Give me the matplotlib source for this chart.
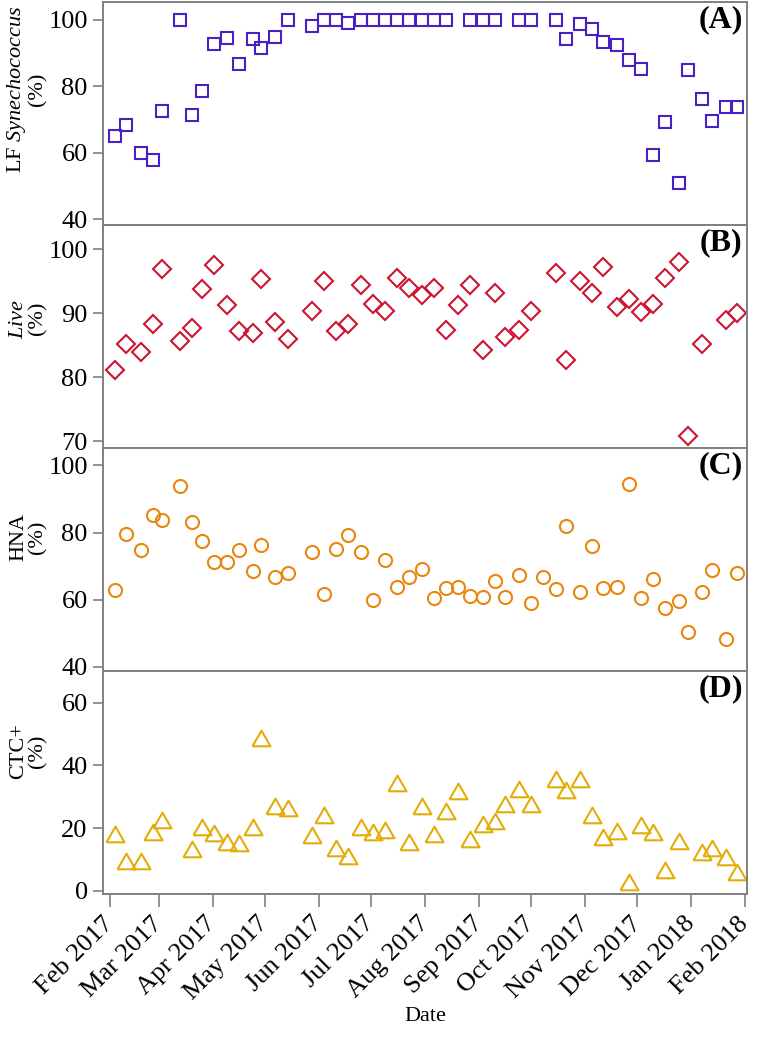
import numpy as np
import pandas as pd
import matplotlib
matplotlib.use("Agg")
import matplotlib.pyplot as plt
import matplotlib.dates as mdates

plt.rcParams['font.family'] = ['Liberation Serif', 'DejaVu Serif']
plt.rcParams['mathtext.fontset'] = 'custom'
plt.rcParams['mathtext.rm'] = 'Liberation Serif'
plt.rcParams['mathtext.it'] = 'Liberation Serif:italic'

nan = np.nan

# sampling dates (weekly)
DATES = pd.to_datetime([
    '2017-02-04', '2017-02-10', '2017-02-19', '2017-02-26', '2017-03-03',
    '2017-03-13', '2017-03-20', '2017-03-26', '2017-04-02', '2017-04-09',
    '2017-04-16', '2017-04-24', '2017-04-29', '2017-05-07', '2017-05-14',
    '2017-05-28', '2017-06-04', '2017-06-11', '2017-06-18', '2017-06-25',
    '2017-07-02', '2017-07-09', '2017-07-16', '2017-07-23', '2017-07-30',
    '2017-08-06', '2017-08-13', '2017-08-20', '2017-08-27', '2017-09-03',
    '2017-09-10', '2017-09-16', '2017-09-24', '2017-10-01', '2017-10-08',
    '2017-10-15', '2017-10-21', '2017-10-29', '2017-11-05', '2017-11-11',
    '2017-11-19', '2017-11-26', '2017-12-03', '2017-12-10', '2017-12-17',
    '2017-12-25', '2017-12-30', '2018-01-07', '2018-01-13', '2018-01-21',
    '2018-01-27'])

lf_syn = [65, 68.2, 60, 57.8, 72.4, 100, 71.2, 78.4, 92.6, 94.6,
          86.8, 94.1, 91.5, 94.8, 100, 98, 100, 100, 99, 100,
          100, 100, 100, 100, 100, 100, 100, nan, 100, 100,
          100, nan, 100, 100, nan, 100, 94.3, 98.6, 97.3, 93.4,
          92.4, 87.8, 85.3, 59.3, 69.1, 50.7, 85, 76, 69.6, 73.7,
          73.7]

live = [81.2, 85.2, 84.0, 88.4, 96.9, 85.6, 87.7, 93.8, 97.6, 91.3,
        87.2, 87.0, 95.4, 88.7, 86.0, 90.3, 95.0, 87.2, 88.4, 94.4,
        91.4, 90.4, 95.5, 94.0, 92.9, 94.0, 87.4, 91.3, 94.4, 84.2,
        93.1, 86.3, 87.4, 90.4, nan, 96.3, 82.7, 95.1, 93.2, 97.3,
        91.0, 92.2, 90.2, 91.5, 95.5, 98.0, 70.8, 85.2, nan, 88.9,
        90.0]

hna = [62.8, 79.6, 74.8, 85.1, 83.7, 93.8, 83.1, 77.6, 71.3, 71.3,
       74.8, 68.5, 76.2, 66.9, 67.9, 74.3, 61.6, 75.0, 79.4, 74.2,
       59.8, 71.8, 63.9, 66.7, 69.3, 60.6, 63.6, 63.9, 61.1, 60.9,
       65.5, 60.8, 67.5, 58.9, 66.9, 63.1, 81.9, 62.3, 75.9, 63.6,
       63.8, 94.6, 60.6, 66.1, 57.4, 59.6, 50.5, 62.3, 68.8, 48.2,
       68.0]

ctc = [18.2, 9.6, 9.6, 18.6, 22.5, nan, 13.4, 20.4, 18.4, 15.4,
       15.2, 20.2, 48.8, 26.9, 26.4, 17.9, 24.1, 13.6, 11.2, 20.4,
       18.6, 19.3, 34.4, 15.6, 26.9, 18.2, 25.3, 31.7, 16.5, 21.4,
       22.2, 27.5, 32.3, 27.5, nan, 35.7, 32.1, 35.5, 24.3, 17.0,
       19.2, 2.8, 21.1, 18.8, 6.7, 16.0, nan, 12.4, 13.6, 10.8,
       6.0]

# equilateral triangle marker
TRI = [(-1, -0.866), (1, -0.866), (0, 0.866), (-1, -0.866)]

# values, label, marker, colour, size, ylim, yticks, tag, label y position
PANELS = [
    (lf_syn, 'LF $\\mathit{Synechococcus}$\n(%)', 's', '#4a1fc4', 8.6, (38.2, 105.3), [40, 60, 80, 100], '(A)', 0.61),
    (live, '$\\mathit{Live}$\n(%)', 'D', '#cc1530', 9.5, (68.96, 103.8), [70, 80, 90, 100], '(B)', 0.58),
    (hna, 'HNA\n(%)', 'o', '#e8860f', 9.4, (38.8, 105.2), [40, 60, 80, 100], '(C)', 0.60),
    (ctc, 'CTC+\n(%)', TRI, '#e3ac06', 13.0, (-1, 70.1), [0, 20, 40, 60], '(D)', 0.64),
]

SPINE = '#808080'

fig, axes = plt.subplots(4, 1, figsize=(7.57, 10.43), dpi=100, sharex=True)
fig.subplots_adjust(left=0.136, right=0.987, top=0.998, bottom=0.143, hspace=0)

for ax, (vals, ylab, mk, col, ms, ylim, yt, tag, ly) in zip(axes, PANELS):
    ax.plot(DATES, vals, linestyle='none', marker=mk, markersize=ms,
            markerfacecolor='none', markeredgecolor=col, markeredgewidth=1.5,
            clip_on=False)
    ax.set_ylim(*ylim)
    ax.set_yticks(yt)
    ax.set_ylabel(ylab, fontsize=16, linespacing=1.0)
    ax.yaxis.set_label_coords(-0.086, ly)
    ax.tick_params(axis='y', labelsize=19, length=7, width=1.2, color=SPINE, pad=4)
    ax.tick_params(axis='x', length=0)
    for s in ax.spines.values():
        s.set_color(SPINE)
        s.set_linewidth(1.4)
    ax.text(0.993, 0.985, tag, transform=ax.transAxes, ha='right', va='top',
            fontsize=23, fontweight='bold')

ax = axes[-1]
ax.set_xlim(pd.Timestamp('2017-01-28'), pd.Timestamp('2018-02-02'))
ax.xaxis.set_major_locator(mdates.MonthLocator())
ax.xaxis.set_major_formatter(mdates.DateFormatter('%b %Y'))
ax.tick_params(axis='x', length=9, width=1.2, color=SPINE, labelsize=19, pad=10)
for lab in ax.get_xticklabels():
    lab.set_rotation(45)
    lab.set_ha('right')
    lab.set_va('center')
    lab.set_rotation_mode('anchor')
ax.set_xlabel('Date', fontsize=16, labelpad=2)

fig.savefig('out.png', dpi=100)
